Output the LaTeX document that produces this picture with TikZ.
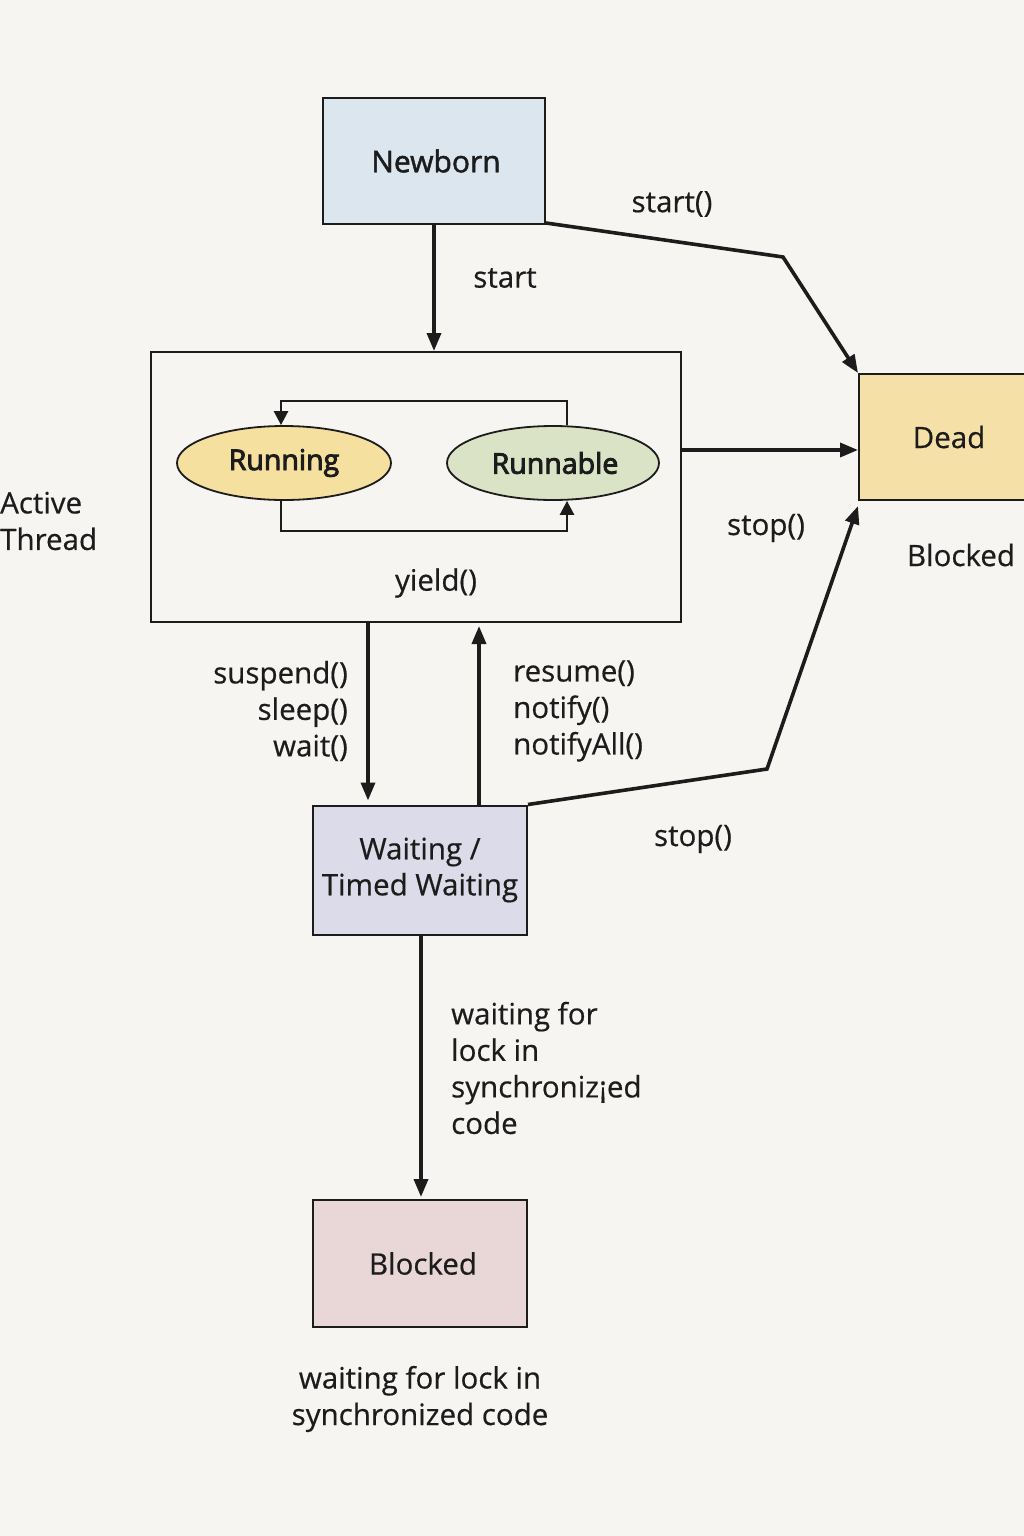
\documentclass[tikz,border=0pt]{standalone}
\usepackage{fontspec}
\setmainfont[FakeBold=0.5]{Open Sans}
\newfontfamily\semib[FakeBold=3.2]{Open Sans}
\newfontfamily\medium[FakeBold=1.6]{Open Sans}
\usetikzlibrary{arrows.meta,shapes.geometric,calc}
\definecolor{bg}{HTML}{F6F5F2}
\definecolor{ink}{HTML}{1C1C1C}
\definecolor{newbornc}{HTML}{DBE6EF}
\definecolor{runningc}{HTML}{F5E0A0}
\definecolor{runnablec}{HTML}{DAE3C5}
\definecolor{deadc}{HTML}{F5E0A8}
\definecolor{waitingc}{HTML}{DCDBE9}
\definecolor{blockedc}{HTML}{E9D7D7}
\tikzset{
  statebox/.style={draw=ink,line width=2pt,rectangle,inner sep=0pt,align=center,font=\fontsize{29.5}{36}\selectfont,text=ink},
  stateell/.style={draw=ink,line width=1.8pt,ellipse,inner sep=0pt,font=\semib\fontsize{28.5}{34}\selectfont,text=ink},
  lbl/.style={inner sep=0pt,font=\fontsize{29.5}{36.5}\selectfont,text=ink},
  bigarrow/.style={draw=ink,line width=3.6pt,-{Triangle[length=18pt,width=14pt]}},
  smallarrow/.style={draw=ink,line width=2.6pt,-{Triangle[length=14pt,width=14pt]}},
}
\begin{document}
\begin{tikzpicture}[x=1pt,y=-1pt]
\fill[bg] (0,0) rectangle (1024,1536);
\useasboundingbox (0,0) rectangle (1024,1536);

% nodes
\node[statebox,fill=newbornc,minimum width=222pt,minimum height=126pt,font=\medium\fontsize{30}{36}\selectfont] (newborn) at (434,161) {\hspace*{4pt}Newborn};
\node[statebox,fill=bg,minimum width=530pt,minimum height=270pt] (active) at (416,487) {};
\node[stateell,fill=runningc,minimum width=214pt,minimum height=74pt] (running) at (284,463) {\raisebox{-3pt}{Running}};
\node[stateell,fill=runnablec,minimum width=212pt,minimum height=74pt] (runnable) at (553,463) {\hspace*{4pt}Runnable};
\node[statebox,fill=deadc,minimum width=176pt,minimum height=126pt] (dead) at (947,437) {\hspace*{4pt}Dead};
\node[statebox,fill=waitingc,minimum width=214pt,minimum height=129pt] (waiting) at (420,870) {Waiting /\\Timed Waiting};
\node[statebox,fill=blockedc,minimum width=214pt,minimum height=127pt] (blocked) at (420,1263.5) {\hspace*{6pt}Blocked};

% labels
\node[lbl] (lstartp) at (672,204) {start()};
\node[lbl] (lstart) at (505,278) {start};
\node[lbl] (lyield) at (436,583) {yield()};
\node[lbl,anchor=west,align=left] (lactive) at (0,521) {Active\\Thread};
\node[lbl] (lstop1) at (766,528) {stop()};
\node[lbl] (lblocked1) at (961,555) {Blocked};
\node[lbl,anchor=east,align=right] (lsusp) at (348,711) {suspend()\\sleep()\\wait()};
\node[lbl,anchor=west,align=left] (lres) at (513,711) {resume()\\notify()\\notifyAll()};
\node[lbl] (lstop2) at (693,839) {stop()};
\node[lbl,anchor=west,align=left] (lwait) at (451,1068) {waiting for\\lock in\\synchroniz¡ed\\code};
\node[lbl,align=center] (lbottom) at (420,1399) {waiting for lock in\\synchronized code};

% connectors
\coordinate (bend1) at (783,257);
\coordinate (bend2) at (767,769);
\draw[bigarrow] (newborn.south) -- (newborn.south |- active.north);
\draw[bigarrow] ([yshift=2pt]newborn.south east) -- (bend1) -- (dead.north west);
\draw[bigarrow] ([yshift=37pt]active.east) -- ([yshift=37pt]active.east -| dead.west);
\draw[bigarrow] ([xshift=-48pt]active.south) -- ([xshift=-48pt,yshift=4pt]active.south |- waiting.north);
\draw[bigarrow] ([xshift=59pt]waiting.north) -- ([xshift=59pt,yshift=-3pt]waiting.north |- active.south);
\draw[bigarrow] (waiting.north east) -- (bend2) -- ([yshift=-5pt]dead.south west);
\draw[bigarrow] ([xshift=1pt]waiting.south) -- ([xshift=1pt,yshift=2pt]blocked.north);

% loop inside active thread
\draw[smallarrow] ([xshift=14pt]runnable.north) -- ++(0,-24) -| ([xshift=-3pt]running.north);
\draw[smallarrow] ([xshift=-3pt]running.south) -- ++(0,30) -| ([xshift=14pt]runnable.south);
\end{tikzpicture}
\end{document}
